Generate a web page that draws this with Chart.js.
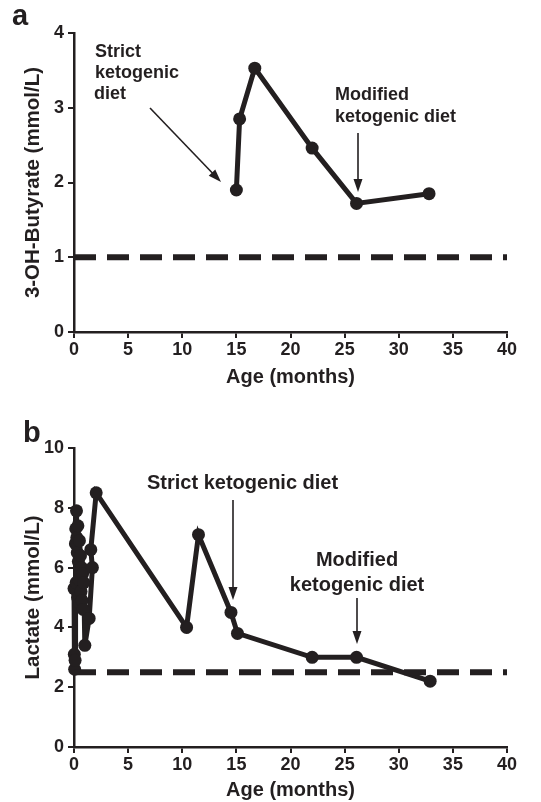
<!DOCTYPE html>
<html>
<head>
<meta charset="utf-8">
<script src="https://cdn.jsdelivr.net/npm/chart.js@4.4.1/dist/chart.umd.min.js"></script>
<style>
  html, body { margin: 0; padding: 0; background: #fff; }
  canvas { display: block; }
</style>
</head>
<body>
<canvas id="chartA" width="541" height="400"></canvas>
<canvas id="chartB" width="541" height="402"></canvas>
<script>
// ─── data ───
const butX = [15.0, 15.3, 16.7, 22.0, 26.1, 32.8];
const butY = [1.9, 2.85, 3.53, 2.46, 1.72, 1.85];
const butRef = 1.0;

// early months are a dense run of samples
const lacX = [0, 0.03, 0.06, 0.1, 0.13, 0.16, 0.2, 0.23, 0.26, 0.3, 0.33, 0.36, 0.4, 0.45, 0.5, 0.55, 0.6, 0.65,
              0.7, 0.75, 0.8, 0.85, 0.9, 1.0, 1.4, 1.7, 1.55, 2.05,
              10.4, 11.5, 14.5, 15.1, 22.0, 26.1, 32.9];
const lacY = [5.3, 3.1, 2.6, 2.9, 6.8, 7.3, 5.5, 7.9, 7.0, 6.5, 5.0, 7.4, 6.2, 5.6, 6.9, 4.8, 6.4, 5.2,
              6.0, 4.9, 5.8, 4.6, 5.5, 3.4, 4.3, 6.0, 6.6, 8.5,
              4.0, 7.1, 4.5, 3.8, 3.0, 3.0, 2.2];
const lacRef = 2.5;

const xTicks = [0, 5, 10, 15, 20, 25, 30, 35, 40];
const butTicks = [0, 1, 2, 3, 4];
const lacTicks = [0, 2, 4, 6, 8, 10];

// ─── shared style ───
const ink = '#231f20';
const FONT = "'Liberation Sans', Arial, Helvetica, sans-serif";
const pts = (xs, ys) => xs.map((x, i) => ({ x, y: ys[i] }));

function axis(title, ticks, horiz, boxSize) {
  return {
    type: 'linear',
    min: ticks[0], max: ticks[ticks.length - 1],
    afterBuildTicks: s => { s.ticks = ticks.map(v => ({ value: v })); },
    afterFit: s => { if (horiz) s.height = boxSize; else s.width = boxSize; },
    border: { display: true, color: ink, width: 2.5 },
    grid: { drawOnChartArea: false, drawTicks: true, tickLength: 6, color: ink, lineWidth: 2 },
    ticks: { color: ink, font: { family: FONT, size: 18, weight: 'bold' }, padding: horiz ? 1 : 4, maxRotation: 0 },
    title: { display: true, text: title, color: ink, padding: 0, font: { family: FONT, size: horiz ? 20 : 20.5, weight: 'bold' } }
  };
}

function drawArrow(ctx, x1, y1, x2, y2) {
  const a = Math.atan2(y2 - y1, x2 - x1), L = 13, W = 4.5;
  ctx.beginPath();
  ctx.moveTo(x1, y1);
  ctx.lineTo(x2 - L * 0.8 * Math.cos(a), y2 - L * 0.8 * Math.sin(a));
  ctx.stroke();
  ctx.beginPath();
  ctx.moveTo(x2, y2);
  ctx.lineTo(x2 - L * Math.cos(a) + W * Math.sin(a), y2 - L * Math.sin(a) - W * Math.cos(a));
  ctx.lineTo(x2 - L * Math.cos(a) - W * Math.sin(a), y2 - L * Math.sin(a) + W * Math.cos(a));
  ctx.closePath();
  ctx.fill();
}

// annotation plugin: panel letter, text, arrows
function notes(letter, lx, ly, size, texts, arrows) {
  return {
    id: 'notes',
    afterDraw(chart) {
      const ctx = chart.ctx;
      ctx.save();
      ctx.fillStyle = ink; ctx.strokeStyle = ink; ctx.lineWidth = 1.6;
      ctx.textBaseline = 'alphabetic';
      ctx.font = 'bold 29px ' + FONT;
      ctx.textAlign = 'left';
      ctx.fillText(letter, lx, ly);
      ctx.font = 'bold ' + size + 'px ' + FONT;
      texts.forEach(t => { ctx.textAlign = t[3] || 'left'; ctx.fillText(t[0], t[1], t[2]); });
      arrows.forEach(a => drawArrow(ctx, a[0], a[1], a[2], a[3]));
      ctx.restore();
    }
  };
}

function lineSet(data) {
  return {
    data, borderColor: ink, backgroundColor: ink, borderWidth: 5,
    pointRadius: 6.5, pointHoverRadius: 6.5, pointBackgroundColor: ink, pointBorderWidth: 0, tension: 0
  };
}
function refSet(v) {
  return {
    data: [{ x: 0, y: v }, { x: 40, y: v }], borderColor: ink, borderWidth: 6,
    borderDash: [22, 11], pointRadius: 0, borderCapStyle: 'butt'
  };
}

function makeChart(id, xs, ys, ref, yTicks, yTitle, pad, xBox, plugin) {
  new Chart(document.getElementById(id), {
    type: 'line',
    data: { datasets: [refSet(ref), lineSet(pts(xs, ys))] },
    options: {
      responsive: false, animation: false, clip: false,
      layout: { padding: pad },
      plugins: { legend: { display: false }, tooltip: { enabled: false } },
      scales: {
        x: axis('Age (months)', xTicks, true, xBox),
        y: axis(yTitle, yTicks, false, 74 - pad.left)
      }
    },
    plugins: [plugin]
  });
}

makeChart('chartA', butX, butY, butRef, butTicks, '3-OH-Butyrate (mmol/L)',
  { left: 20.7, right: 34, top: 33, bottom: 11 }, 57,
  notes('a', 12, 25, 18,
    [['Strict', 95, 57], ['ketogenic', 95, 78], ['diet', 94, 99],
     ['Modified', 335, 100], ['ketogenic diet', 335, 122]],
    [[150, 108, 221, 182], [358, 133, 358, 192]]));

makeChart('chartB', lacX, lacY, lacRef, lacTicks, 'Lactate (mmol/L)',
  { left: 20.7, right: 34, top: 48, bottom: 0 }, 55,
  notes('b', 23, 42, 20,
    [['Strict ketogenic diet', 147, 89], ['Modified', 357, 166, 'center'], ['ketogenic diet', 357, 191, 'center']],
    [[233, 100, 233, 200], [357, 198, 357, 244]]));
</script>
</body>
</html>
